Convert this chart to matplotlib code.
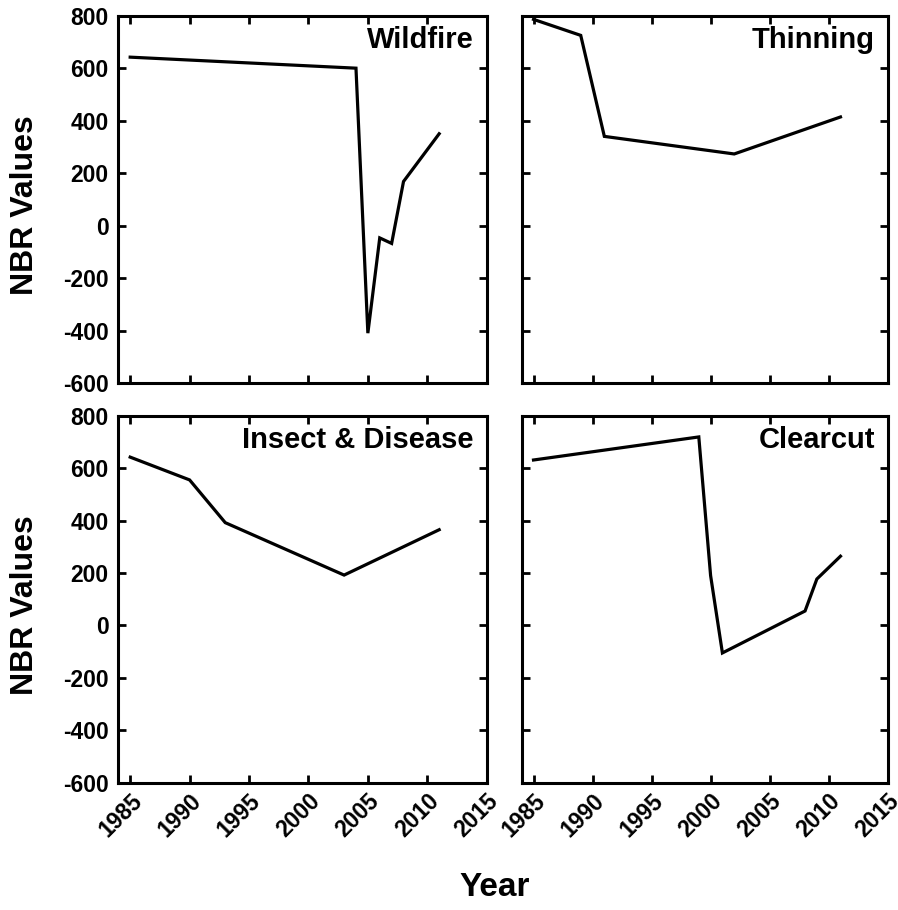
import matplotlib
matplotlib.use("Agg")
import matplotlib.pyplot as plt

plt.rcParams['font.family'] = ['Liberation Sans', 'DejaVu Sans']
plt.rcParams['font.weight'] = 'bold'

# NBR trajectories for four disturbance types
wildfire_years = [1985, 2004, 2005, 2006, 2007, 2008, 2011]
wildfire_nbr = [642, 600, -410, -47, -68, 168, 350]

thinning_years = [1985, 1989, 1991, 2002, 2011]
thinning_nbr = [786, 725, 340, 273, 414]

insect_years = [1985, 1990, 1993, 2003, 2011]
insect_nbr = [642, 555, 392, 192, 365]

clearcut_years = [1985, 1999, 2000, 2001, 2008, 2009, 2011]
clearcut_nbr = [631, 719, 190, -105, 55, 177, 264]

panel_titles = ["Wildfire", "Thinning", "Insect & Disease", "Clearcut"]
x_ticks = [1985, 1990, 1995, 2000, 2005, 2010, 2015]
y_ticks = [-600, -400, -200, 0, 200, 400, 600, 800]

series = [
    (wildfire_years, wildfire_nbr),
    (thinning_years, thinning_nbr),
    (insect_years, insect_nbr),
    (clearcut_years, clearcut_nbr),
]

fig = plt.figure(figsize=(8.98, 9.10), dpi=100)
W, H = 898, 910
boxes = [
    (118.3, 15.7, 486.7, 383.0),
    (521.7, 15.7, 887.7, 383.0),
    (118.3, 415.7, 486.7, 782.7),
    (521.7, 415.7, 887.7, 782.7),
]

axes = []
for i, (x0, y0, x1, y1) in enumerate(boxes):
    ax = fig.add_axes([x0 / W, 1 - y1 / H, (x1 - x0) / W, (y1 - y0) / H])
    axes.append(ax)
    years, vals = series[i]
    ax.plot(years, vals, color='black', lw=2.3, solid_joinstyle='miter')
    ax.set_xlim(1984, 2015)
    ax.set_ylim(-600, 800)
    ax.set_xticks(x_ticks)
    ax.set_yticks(y_ticks)
    for s in ax.spines.values():
        s.set_linewidth(2.2)
    ax.tick_params(direction='in', length=6, width=2, top=True, right=True,
                   labelsize=16.5)
    ax.tick_params(axis='y', pad=7)
    ax.tick_params(axis='x', pad=5)
    ax.text(0.965, 0.972, panel_titles[i], transform=ax.transAxes,
            ha='right', va='top', fontsize=21, fontweight='bold')
    if i % 2 == 1:
        ax.set_yticklabels([])
    else:
        ax.set_yticklabels([str(v) for v in y_ticks], fontweight='bold')
    if i < 2:
        ax.set_xticklabels([])
    else:
        ax.set_xticklabels([str(v) for v in x_ticks], rotation=45,
                           ha='right', rotation_mode='anchor',
                           fontweight='bold')

# Shared axis labels
for y0, y1 in [(15.7, 383.0), (415.7, 782.7)]:
    fig.text(25 / W, 1 - ((y0 + y1) / 2 + 6) / H, "NBR Values",
             rotation=90, ha='center', va='center',
             fontsize=23, fontweight='bold')

fig.text(495 / W, 1 - 888 / H, "Year", ha='center', va='center',
         fontsize=24, fontweight='bold')

fig.savefig("out.png", dpi=100)
